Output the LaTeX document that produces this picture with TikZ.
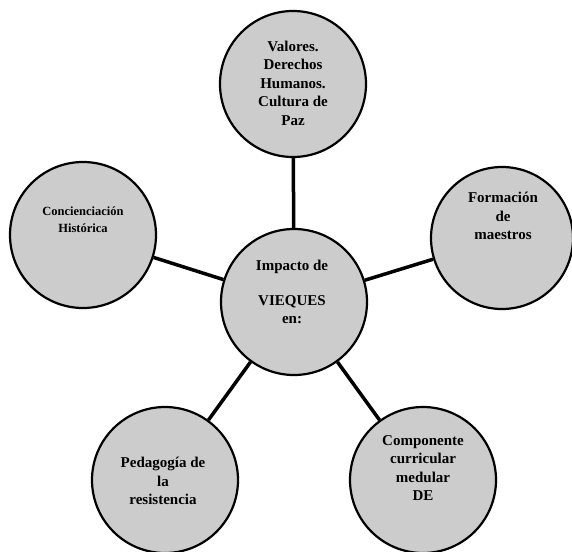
\documentclass[tikz,border=0pt]{standalone}
\usepackage{fontspec}
\setmainfont{Liberation Serif}
\begin{document}
\begin{tikzpicture}[x=1pt,y=-1pt,
  bubble/.style={circle,draw=black,line width=2.2pt,fill=black!20,minimum size=146pt,inner sep=0pt},
  label/.style={align=center,font=\bfseries\fontsize{15}{18.5}\selectfont,inner sep=0pt},
  smalllabel/.style={align=center,font=\bfseries\fontsize{12.5}{17}\selectfont,inner sep=0pt},
  link/.style={line width=3.5pt,draw=black}]
\useasboundingbox (0,0) rectangle (572,551);
\node[bubble] (c) at (294,302) {};
\node[bubble] (t) at (293,84) {};
\node[bubble] (l) at (83,235) {};
\node[bubble,minimum size=142pt] (r) at (502,238) {};
\node[bubble] (bl) at (165,480) {};
\node[bubble] (br) at (423,480) {};
\draw[link] (c) -- (t);
\draw[link] (c) -- (l);
\draw[link] (c) -- (r);
\draw[link] (c) -- (bl);
\draw[link] (c) -- (br);
\node[label] (tc) at (293,83) {Valores.\\Derechos\\Humanos.\\Cultura de\\Paz};
\node[label] (cc) at (292,292) {Impacto de\\[16pt]VIEQUES\\en:};
\node[smalllabel] (lc) at (83,220) {Concienciación\\Histórica};
\node[label] (rc) at (503,216) {Formación\\de\\maestros};
\node[label] (blc) at (163,481) {Pedagogía de\\la\\resistencia};
\node[label] (brc) at (423,468) {Componente\\curricular\\medular\\DE};
\end{tikzpicture}
\end{document}
